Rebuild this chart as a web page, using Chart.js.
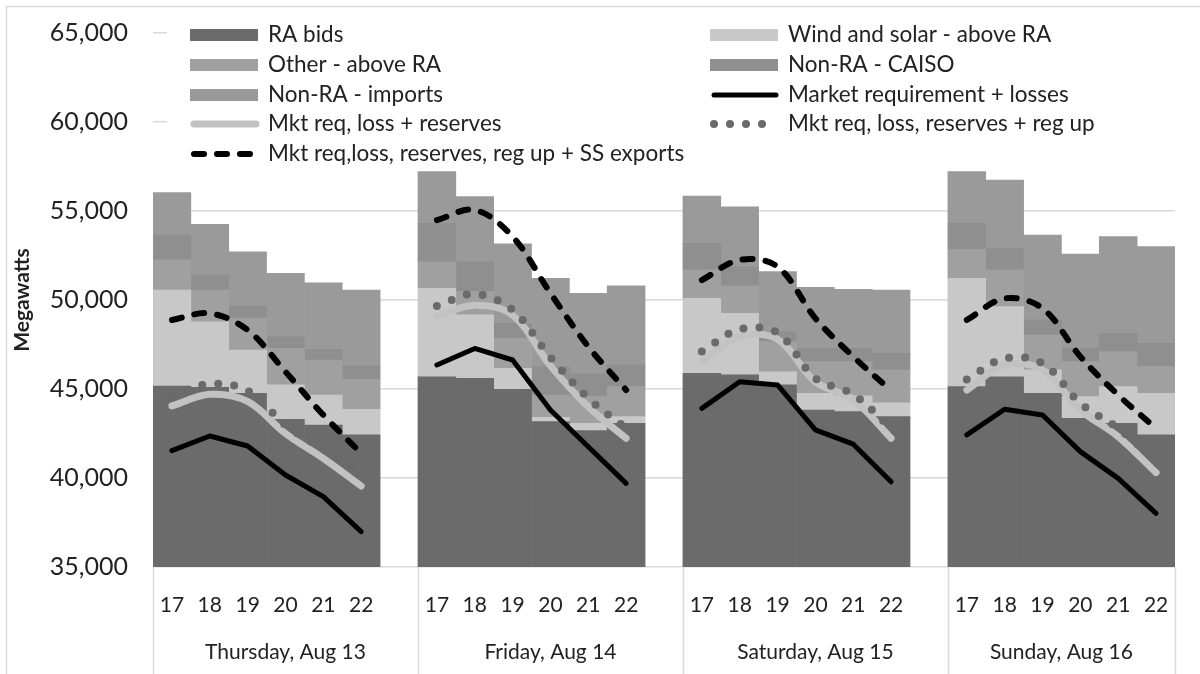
<!DOCTYPE html>
<html>
<head>
<meta charset="utf-8">
<script src="https://cdn.jsdelivr.net/npm/chart.js@4.4.1/dist/chart.umd.min.js"></script>
<style>
  html, body { margin: 0; padding: 0; background: #fff; }
</style>
</head>
<body>
<canvas id="graficoRA" width="1200" height="674"></canvas>
<script>
const dias = ['Thursday, Aug 13', 'Friday, Aug 14', 'Saturday, Aug 15', 'Sunday, Aug 16'];
const horas = ['17', '18', '19', '20', '21', '22'];
const yTicks = [35000, 40000, 45000, 50000, 55000, 60000, 65000];

// stacked supply, MW (Thu 17-22, Fri, Sat, Sun)
const raBids = [45170, 45100, 44760, 43300, 42980, 42420, 45690, 45600, 44980, 43170, 42660, 43070,
                45880, 45790, 45230, 43820, 43730, 43450, 45130, 45690, 44760, 43350, 43070, 42420];
const windSolar = [5390, 3680, 2430, 1930, 1680, 1440, 4970, 3560, 1180, 240, 410, 380,
                   4210, 3460, 740, 940, 880, 780, 6090, 3940, 1310, 1220, 2060, 2340];
const otherAbove = [1690, 1780, 1780, 2050, 1970, 1680, 1490, 1310, 1690, 1250, 1500, 1680,
                    1600, 1540, 1690, 1780, 1930, 1840, 1630, 2060, 1960, 1970, 1970, 1500];
const nonRaCaiso = [1400, 840, 690, 660, 600, 750, 2160, 1680, 840, 1600, 1300, 1220,
                    1490, 1080, 560, 740, 740, 930, 1460, 1210, 850, 740, 1030, 1310];
const nonRaImports = [2380, 2850, 3050, 3560, 3740, 4270, 2900, 3660, 4460, 4960, 4510, 4440,
                      2660, 3370, 3370, 3430, 3320, 3560, 2900, 3840, 4770, 5300, 5430, 5430];

// requirement lines
const mktReq = [41540, 42360, 41800, 40170, 38950, 36990, 46350, 47280, 46630, 43820, 41760, 39700,
                43910, 45410, 45230, 42700, 41900, 39790, 42420, 43860, 43540, 41480, 39980, 38010];
const mktReserves = [44050, 44700, 44300, 42500, 41100, 39550, 49100, 49700, 49150, 46300, 44000, 42230,
                     46540, 47940, 47790, 45410, 44400, 42230, 44940, 46350, 46070, 43820, 42320, 40300];
const mktRegUp = [44660, 45280, 44910, 42980, 41610, 40170, 49660, 50340, 49440, 46780, 44480, 42790,
                  47100, 48350, 48160, 45600, 44700, 42790, 45540, 46720, 46440, 44200, 42790, 40970];
const mktExports = [48880, 49250, 48310, 45970, 43540, 41390, 54490, 55060, 53560, 50380, 47380, 44940,
                    51120, 52250, 51870, 48970, 46820, 44900, 48880, 50090, 49530, 46820, 44660, 42790];

const fonte = 'Lato, "Open Sans", sans-serif';
const corTexto = '#222';

// 6 hours per day, one empty slot between days
function porDia(valores, vazio) {
    const out = [];
    dias.forEach((d, i) => {
        out.push(...valores.slice(i * 6, i * 6 + 6));
        if (i < dias.length - 1) out.push(vazio);
    });
    return out;
}

const slotLabels = porDia(dias.flatMap(() => horas), '');

function barra(label, valores, cor) {
    return {
        type: 'bar', label, data: porDia(valores, null),
        backgroundColor: cor, borderWidth: 0, order: 5,
        barPercentage: 1, categoryPercentage: 1
    };
}

function linha(label, valores, estilo, order) {
    return Object.assign({
        type: 'line', label, data: porDia(valores, null), stack: 'l-' + label,
        pointRadius: 0, fill: false, spanGaps: false, order,
        borderCapStyle: 'round', borderJoinStyle: 'round'
    }, estilo);
}

// legend box drawn over the top of the plot, axis groups drawn below
const extras = {
    id: 'extras',
    beforeDraw(chart) {
        const { ctx, width, height } = chart;
        ctx.save();
        ctx.fillStyle = '#fff';
        ctx.fillRect(0, 0, width, height);
        ctx.strokeStyle = '#d9d9d9';
        ctx.lineWidth = 1.5;
        ctx.beginPath();
        ctx.moveTo(6.5, height);
        ctx.lineTo(6.5, 6.5);
        ctx.lineTo(width, 6.5);
        ctx.stroke();
        ctx.restore();
    },
    beforeDatasetsDraw(chart) {
        const { ctx } = chart;
        ctx.save();
        ctx.fillStyle = '#fff';
        ctx.fillRect(167, 14, 1015, 154);
        ctx.font = '22.5px ' + fonte;
        ctx.textBaseline = 'middle';
        const linhasY = [35, 65, 95, 124, 154];
        const colunasX = [190, 710];
        chart.data.datasets.forEach((ds, i) => {
            const x = colunasX[i % 2];
            const y = linhasY[Math.floor(i / 2)];
            if (ds.type === 'bar') {
                ctx.fillStyle = ds.backgroundColor;
                ctx.fillRect(x, y - 6, 68, 12);
            } else {
                ctx.strokeStyle = ds.borderColor;
                ctx.lineWidth = ds.borderWidth;
                ctx.lineCap = 'round';
                ctx.setLineDash(ds.borderDash || []);
                ctx.beginPath();
                ctx.moveTo(x + 4, y);
                ctx.lineTo(x + 66, y);
                ctx.stroke();
                ctx.setLineDash([]);
            }
            ctx.fillStyle = corTexto;
            ctx.fillText(ds.label, x + 78, y);
        });
        ctx.restore();
    },
    afterDraw(chart) {
        const { ctx, chartArea } = chart;
        const xs = chart.scales.x;
        const slot = xs.getPixelForValue(1) - xs.getPixelForValue(0);
        const ultimo = slotLabels.length - 1;
        ctx.save();
        ctx.strokeStyle = '#d9d9d9';
        ctx.lineWidth = 1.5;
        ctx.font = '21px ' + fonte;
        ctx.fillStyle = corTexto;
        ctx.textAlign = 'center';
        ctx.textBaseline = 'middle';
        dias.forEach((dia, k) => {
            const ini = k * 7;
            const fim = Math.min(ini + 6, ultimo);
            const sep = Math.round(xs.getPixelForValue(ini) - slot / 2) + 0.5;
            ctx.beginPath();
            ctx.moveTo(sep, chartArea.bottom);
            ctx.lineTo(sep, chart.height);
            ctx.stroke();
            const centro = (xs.getPixelForValue(ini) + xs.getPixelForValue(fim)) / 2;
            ctx.fillText(dia, centro, 652);
        });
        const fimX = Math.round(chartArea.right) + 0.5;
        ctx.beginPath();
        ctx.moveTo(fimX, chartArea.bottom);
        ctx.lineTo(fimX, chart.height);
        ctx.stroke();
        ctx.restore();
    }
};

new Chart(document.getElementById('graficoRA'), {
    type: 'bar',
    data: {
        labels: slotLabels,
        datasets: [
            barra('RA bids', raBids, '#6b6b6b'),
            barra('Wind and solar - above RA', windSolar, '#c8c8c8'),
            barra('Other - above RA', otherAbove, '#a0a0a0'),
            barra('Non-RA - CAISO', nonRaCaiso, '#8f8f8f'),
            barra('Non-RA - imports', nonRaImports, '#9a9a9a'),
            linha('Market requirement + losses', mktReq,
                { borderColor: '#000', borderWidth: 5, tension: 0 }, 1),
            linha('Mkt req, loss + reserves', mktReserves,
                { borderColor: '#c2c2c2', borderWidth: 7, tension: 0.35 }, 3),
            linha('Mkt req, loss, reserves + reg up', mktRegUp,
                { borderColor: '#6a6a6a', borderWidth: 8, tension: 0.35, borderDash: [0, 16] }, 2),
            linha('Mkt req,loss, reserves, reg up + SS exports', mktExports,
                { borderColor: '#000', borderWidth: 6, tension: 0.35, borderDash: [10, 13] }, 0)
        ]
    },
    options: {
        responsive: false,
        animation: false,
        layout: { padding: { left: 8, right: 25, top: 33, bottom: 0 } },
        plugins: {
            legend: { display: false },
            tooltip: { enabled: false }
        },
        scales: {
            x: {
                stacked: true,
                grid: { display: false },
                border: { display: false },
                ticks: {
                    autoSkip: false, maxRotation: 0, padding: 18,
                    color: corTexto, font: { family: fonte, size: 21 }
                },
                afterFit: (s) => { s.height = 107; }
            },
            y: {
                stacked: true,
                min: 35000,
                max: 65000,
                afterBuildTicks: (s) => { s.ticks = yTicks.map(v => ({ value: v })); },
                grid: { color: '#d9d9d9', lineWidth: 1.5, drawTicks: false },
                border: { display: false },
                ticks: {
                    padding: 25, color: corTexto,
                    font: { family: fonte, size: 25 },
                    callback: (v) => v.toLocaleString('en-US')
                },
                title: {
                    display: true, text: 'Megawatts', color: corTexto, padding: 2,
                    font: { family: fonte, size: 21, weight: 'bold' }
                },
                afterFit: (s) => {
                    s.width = 145;
                    s.paddingTop = 0;
                    s.paddingBottom = 0;
                }
            }
        }
    },
    plugins: [extras]
});
</script>
</body>
</html>
